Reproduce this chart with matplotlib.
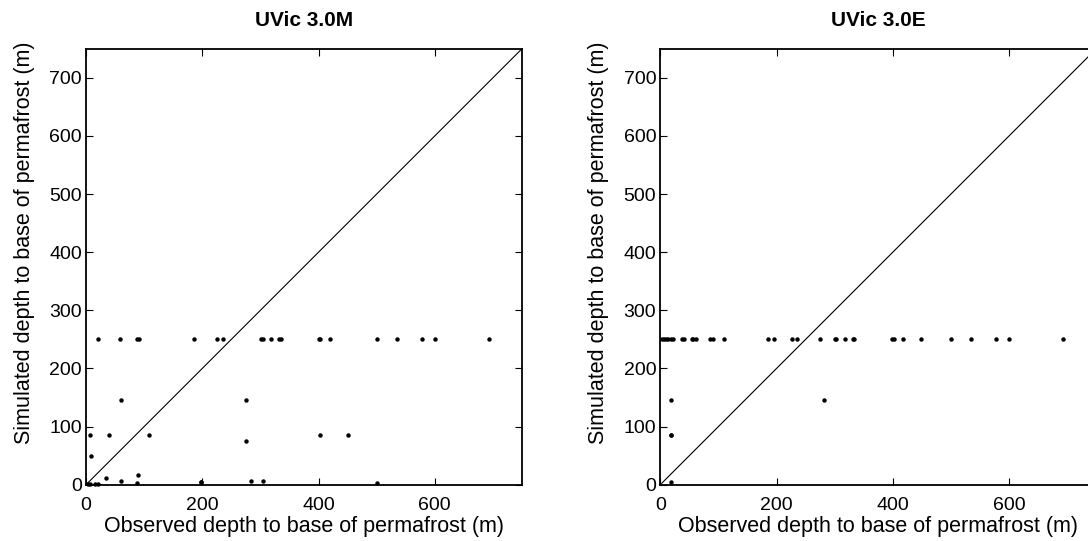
import matplotlib
matplotlib.use("Agg")
import matplotlib.pyplot as plt

plt.rcParams['font.family'] = ['Liberation Sans', 'DejaVu Sans']

# UVic 3.0M: observed vs simulated depth to base of permafrost (m)
m_obs = [21, 59, 87, 91, 186, 226, 236, 301, 304, 319, 332, 335, 401, 403, 419, 500, 535, 578, 600, 693,
         61, 276, 7, 40, 109, 402, 451, 275, 9, 34, 90, 61, 87, 197, 198, 284, 305, 501,
         4, 7, 15, 20]
m_sim = [250] * 20 + \
        [146, 146, 86, 86, 86, 86, 86, 76, 50, 12, 17, 6, 3, 5, 4, 6, 6, 3,
         2, 2, 2, 2]

# UVic 3.0E
e_obs = [3, 7, 10, 14, 18, 21, 37, 40, 54, 57, 61, 86, 90, 109, 185, 195, 226, 235, 274, 300, 303,
         318, 331, 334, 399, 402, 418, 449, 500, 535, 577, 599, 693,
         18, 18, 19, 18, 281]
e_sim = [250] * 33 + [146, 86, 86, 5, 146]

titles = ['UVic 3.0M', 'UVic 3.0E']
ticks_x = [0, 200, 400, 600]
ticks_y = [0, 100, 200, 300, 400, 500, 600, 700]

fig = plt.figure(figsize=(10.88, 5.41), dpi=100)
ax1 = fig.add_axes([86 / 1088, 56.3 / 541, 436 / 1088, 436 / 541])
ax2 = fig.add_axes([660.3 / 1088, 56.3 / 541, 436 / 1088, 436 / 541])

for ax, xs, ys, title in [(ax1, m_obs, m_sim, titles[0]), (ax2, e_obs, e_sim, titles[1])]:
    ax.plot([0, 750], [0, 750], color='black', lw=0.8)
    ax.plot(xs, ys, 'o', color='black', ms=3.2, mew=0, clip_on=False)
    ax.set_xlim(0, 750)
    ax.set_ylim(0, 750)
    ax.set_xticks(ticks_x)
    ax.set_yticks(ticks_y)
    ax.tick_params(direction='in', top=True, right=True, length=5, width=0.8,
                   labelsize=14, pad=3)
    ax.tick_params(axis='x', pad=9)
    for s in ax.spines.values():
        s.set_linewidth(1.3)
    ax.set_title(title, fontsize=15, fontweight='bold', pad=16)
    ax.set_xlabel('Observed depth to base of permafrost (m)', fontsize=15.5, labelpad=1)
    ax.set_ylabel('Simulated depth to base of permafrost (m)', fontsize=15.5)
    ax.yaxis.set_label_coords(-0.117, 0.555)

fig.savefig('out.png', dpi=100)
